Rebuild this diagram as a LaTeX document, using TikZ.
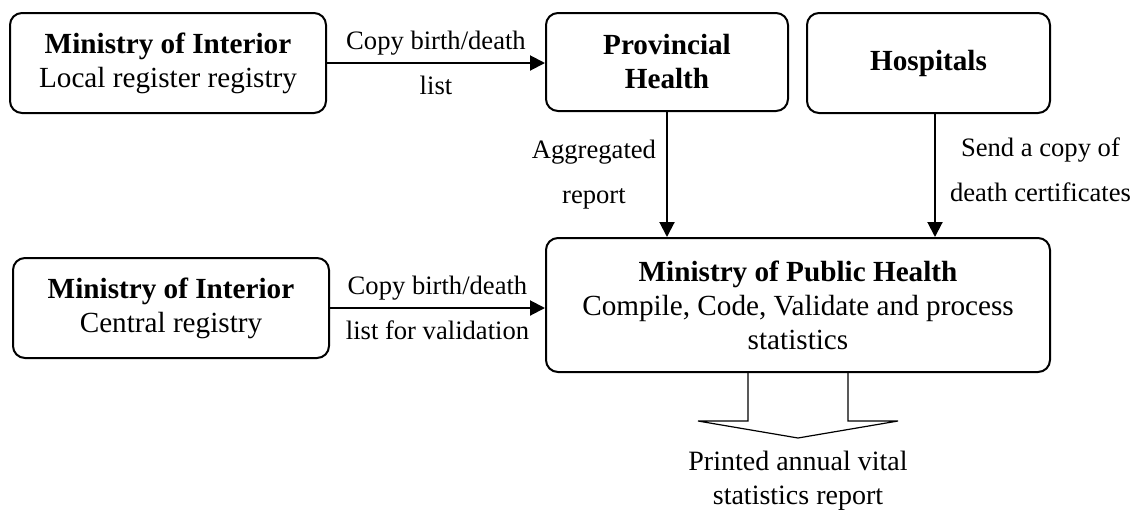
\documentclass[tikz,border=0pt]{standalone}
\usepackage{fontspec}
\setmainfont{Liberation Serif}
\usetikzlibrary{arrows.meta}
\begin{document}
\begin{tikzpicture}[x=0.5pt,y=-0.5pt,
    box/.style={draw,line width=1pt,rounded corners=6pt,align=center,
      inner sep=2pt,font=\fontsize{14.6pt}{17pt}\selectfont},
    flow/.style={line width=1pt,-{Triangle[length=7.5pt,width=7.5pt]}},
    lbl/.style={align=center,inner sep=0pt,font=\fontsize{13.3pt}{22.5pt}\selectfont}]
  \useasboundingbox (0,0) rectangle (1130,515);
  \node[box,minimum width=158pt,minimum height=50pt] (intlocal) at (168,63)
    {\textbf{Ministry of Interior}\\Local register registry};
  \node[box,minimum width=121pt,minimum height=49pt] (prov) at (667,62)
    {\textbf{Provincial}\\\textbf{Health}};
  \node[box,minimum width=121.5pt,minimum height=50pt] (hosp) at (928.5,63)
    {\textbf{Hospitals}};
  \node[box,minimum width=158pt,minimum height=50pt] (intcentral) at (171,308)
    {\textbf{Ministry of Interior}\\Central registry};
  \node[box,minimum width=252pt,minimum height=67pt] (mph) at (798,305)
    {\textbf{Ministry of Public Health}\\Compile, Code, Validate and process\\statistics};
  \node[align=center,inner sep=0pt,font=\fontsize{14pt}{17pt}\selectfont] (printed) at (798,481)
    {Printed annual vital\\statistics report};
  \coordinate (hs) at ([xshift=3.25pt]hosp.south);
  \draw[flow] (intlocal) -- node[lbl]{Copy birth/death\\list} (intlocal -| prov.west);
  \draw[flow] (intcentral) -- node[lbl]{Copy birth/death\\list for validation} (intcentral -| mph.west);
  \draw[flow] (prov) -- node[lbl,left=5pt]{Aggregated\\report} (prov |- mph.north);
  \draw[flow] (hs) -- node[lbl,right=7pt,yshift=3pt]{Send a copy of\\death certificates} (hs |- mph.north);
  % open block arrow to the printed report
  \draw[line width=0.6pt] ([xshift=-25pt]mph.south) -- ++(0,48) -- ++(-50,0)
    -- ++(100,17) -- ++(100,-17) -- ++(-50,0) -- ++(0,-48);
\end{tikzpicture}
\end{document}
